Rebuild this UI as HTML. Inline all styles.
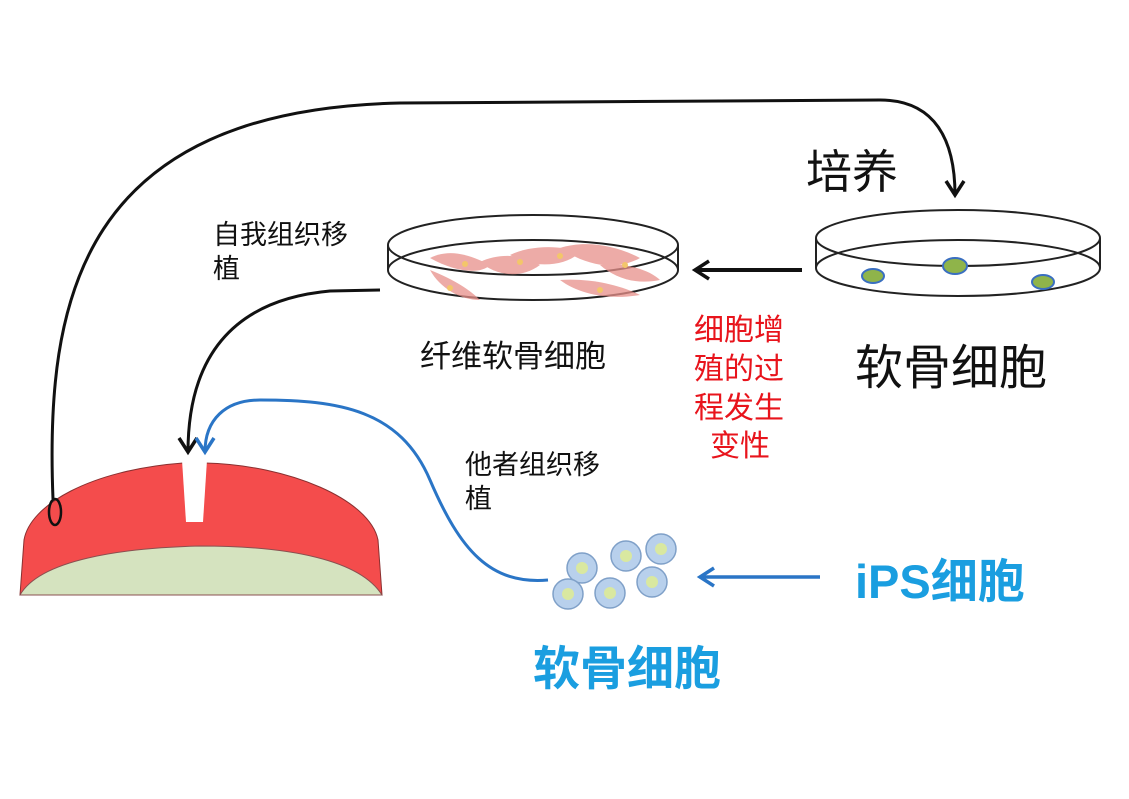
<!DOCTYPE html>
<html><head><meta charset="utf-8"><style>
body{margin:0;background:#fff;}
svg text{font-family:"Liberation Sans","Noto Sans CJK SC",sans-serif;}
</style></head><body>
<svg width="1129" height="794" viewBox="0 0 1129 794" xmlns="http://www.w3.org/2000/svg">
<defs>
<marker id="ak2" markerWidth="22" markerHeight="22" refX="16" refY="11" orient="auto" markerUnits="userSpaceOnUse"><path d="M2,2 L16,11 L2,20" fill="none" stroke="#111" stroke-width="3.5"/></marker>
<marker id="ab2" markerWidth="22" markerHeight="22" refX="16" refY="11" orient="auto" markerUnits="userSpaceOnUse"><path d="M2,2 L16,11 L2,20" fill="none" stroke="#2a75c6" stroke-width="3.5"/></marker>
</defs>
<!-- joint -->
<path d="M20,595 L24,540 C30,505 90,470 183,463 L205,463 C290,465 370,500 378,540 L382,595 Z" fill="#f44c4c" stroke="#8a3030" stroke-width="1"/>
<path d="M20,595 C40,560 120,548 200,546 C290,546 360,560 382,595 Z" fill="#d5e3bf" stroke="#8a5050" stroke-width="1"/>
<path d="M182,460 L186,522 L203,522 L207,460 Z" fill="#fff"/>
<ellipse cx="55" cy="512" rx="6" ry="13" fill="none" stroke="#111" stroke-width="2.5"/>
<!-- connectors -->
<path d="M53,499 C45,300 80,110 400,103 L880,100 C935,100 955,140 955,195" fill="none" stroke="#111" stroke-width="3" marker-end="url(#ak2)"/>
<path d="M380,290 L330,291 C230,300 188,360 188,452" fill="none" stroke="#111" stroke-width="3" marker-end="url(#ak2)"/>
<path d="M548,580 C490,585 460,550 430,480 C400,410 340,400 260,400 C225,400 205,420 205,452" fill="none" stroke="#2a75c6" stroke-width="3" marker-end="url(#ab2)"/>
<line x1="802" y1="270" x2="695" y2="270" stroke="#111" stroke-width="4" marker-end="url(#ak2)"/>
<line x1="820" y1="577" x2="700" y2="577" stroke="#2a75c6" stroke-width="3.5" marker-end="url(#ab2)"/>
<!-- left dish -->
<g fill="none" stroke="#222" stroke-width="2">
<ellipse cx="533" cy="245" rx="145" ry="30"/>
<ellipse cx="533" cy="270" rx="145" ry="30"/>
<line x1="388" y1="245" x2="388" y2="270"/><line x1="678" y1="245" x2="678" y2="270"/>
</g>
<g fill="#e8908a" opacity="0.75">
<path d="M430,258 C450,248 470,255 490,265 C480,275 455,272 430,258Z"/>
<path d="M480,262 C500,252 525,255 540,265 C520,280 495,275 480,262Z"/>
<path d="M510,255 C530,245 560,245 580,252 C565,268 530,268 510,255Z"/>
<path d="M560,248 C585,240 615,245 640,258 C615,272 585,265 560,248Z"/>
<path d="M430,270 C455,280 470,290 480,300 C460,300 440,288 430,270Z"/>
<path d="M560,280 C590,278 620,285 640,295 C610,300 580,295 560,280Z"/>
<path d="M600,265 C625,262 650,270 660,280 C635,285 615,278 600,265Z"/>
</g>
<g fill="#f3c66a"><circle cx="465" cy="264" r="3"/><circle cx="520" cy="262" r="3"/><circle cx="560" cy="256" r="3"/><circle cx="625" cy="265" r="3"/><circle cx="450" cy="288" r="3"/><circle cx="600" cy="290" r="3"/></g>
<!-- right dish -->
<g fill="none" stroke="#222" stroke-width="2">
<ellipse cx="958" cy="238" rx="142" ry="28"/>
<ellipse cx="958" cy="268" rx="142" ry="28"/>
<line x1="816" y1="238" x2="816" y2="268"/><line x1="1100" y1="238" x2="1100" y2="268"/>
</g>
<g stroke="#3a6fc0" stroke-width="2" fill="#8fb44a">
<ellipse cx="873" cy="276" rx="11" ry="7"/><ellipse cx="955" cy="266" rx="12" ry="8"/><ellipse cx="1043" cy="282" rx="11" ry="7"/>
</g>
<!-- cells -->
<g stroke="#7fa0c8" stroke-width="1.5" fill="#b8d0ec">
<circle cx="582" cy="568" r="15"/><circle cx="626" cy="556" r="15"/><circle cx="661" cy="549" r="15"/>
<circle cx="568" cy="594" r="15"/><circle cx="610" cy="593" r="15"/><circle cx="652" cy="582" r="15"/>
</g>
<g fill="#d9e8a0"><circle cx="582" cy="568" r="6"/><circle cx="626" cy="556" r="6"/><circle cx="661" cy="549" r="6"/><circle cx="568" cy="594" r="6"/><circle cx="610" cy="593" r="6"/><circle cx="652" cy="582" r="6"/></g>
<!-- text -->
<text x="806" y="188" font-size="46" fill="#111">培养</text>
<text x="213" y="244" font-size="27" fill="#111">自我组织移</text>
<text x="213" y="278" font-size="27" fill="#111">植</text>
<text x="420" y="367" font-size="31" fill="#111">纤维软骨细胞</text>
<g font-size="30" fill="#e8141c"><text x="694" y="340">细胞增</text><text x="694" y="379">殖的过</text><text x="694" y="418">程发生</text><text x="710" y="456">变性</text></g>
<text x="855" y="384" font-size="48" fill="#111">软骨细胞</text>
<text x="465" y="474" font-size="27" fill="#111">他者组织移</text>
<text x="465" y="508" font-size="27" fill="#111">植</text>
<text x="855" y="598" font-size="47" font-weight="bold" fill="#1a9ee0">iPS细胞</text>
<text x="533" y="685" font-size="47" font-weight="bold" fill="#1a9ee0">软骨细胞</text>
</svg>
</body></html>
